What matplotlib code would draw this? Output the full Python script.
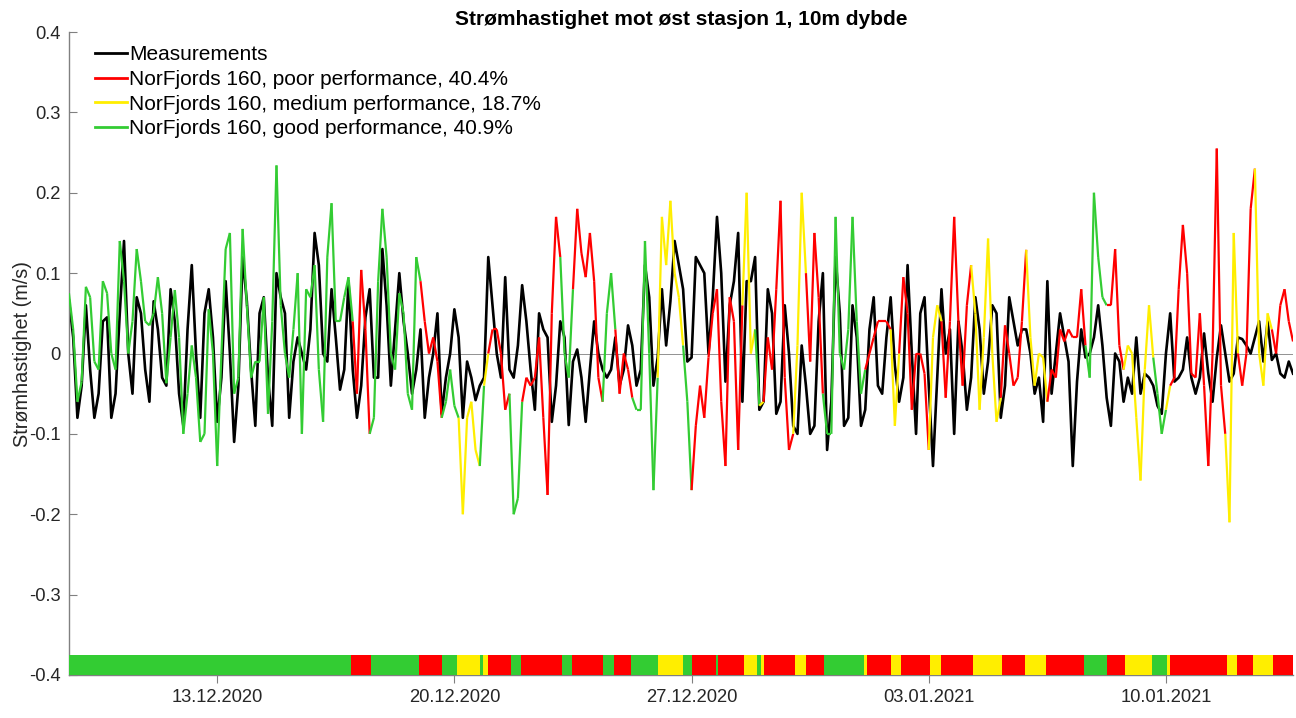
import numpy as np
import pandas as pd
import matplotlib
matplotlib.use('Agg')
import matplotlib.pyplot as plt
import matplotlib.dates as mdates
from matplotlib.collections import LineCollection
from matplotlib.lines import Line2D

plt.rcParams['font.family'] = ['Liberation Sans', 'DejaVu Sans']
plt.rcParams['axes.unicode_minus'] = False

# --- Data (3-hourly samples) ---
start_time = '2020-12-08 15:00'
step_hours = 3

measured = [
    0.066, 0.02, -0.08, -0.04, 0.06, -0.02, -0.08, -0.05, 0.04, 0.045,
    -0.08, -0.05, 0.05, 0.14, 0.0, -0.05, 0.07, 0.05, -0.02, -0.06,
    0.065, 0.03, -0.03, -0.04, 0.08, 0.04, -0.05, -0.09, 0.03, 0.11,
    0.0, -0.08, 0.05, 0.08, 0.02, -0.085, -0.03, 0.09, 0.0, -0.11,
    -0.04, 0.12, 0.065, -0.02, -0.09, 0.05, 0.07, -0.03, -0.09, 0.1,
    0.07, 0.05, -0.08, -0.01, 0.02, 0.0, -0.02, 0.03, 0.15, 0.11,
    0.0, -0.01, 0.08, 0.02, -0.045, -0.02, 0.09, -0.02, -0.08, -0.04,
    0.045, 0.08, -0.03, -0.03, 0.13, 0.06, -0.04, 0.03, 0.1, 0.04,
    0.0, -0.05, -0.02, 0.03, -0.08, -0.03, 0.0, 0.05, -0.075, -0.03,
    0.0, 0.055, 0.02, -0.08, -0.01, -0.03, -0.058, -0.04, -0.03, 0.12,
    0.06, 0.0, -0.03, 0.095, -0.02, -0.03, 0.01, 0.085, 0.04, -0.02,
    -0.07, 0.05, 0.03, 0.02, -0.085, -0.04, 0.04, 0.02, -0.089, -0.01,
    0.005, -0.03, -0.085, -0.02, 0.04, 0.0, -0.02, -0.03, -0.02, 0.02,
    -0.04, -0.02, 0.035, 0.01, -0.04, -0.02, 0.11, 0.07, -0.04, -0.005,
    0.08, 0.01, 0.065, 0.14, 0.11, 0.08, -0.01, -0.005, 0.12, 0.11,
    0.1, 0.0, 0.07, 0.17, 0.1, -0.035, 0.06, 0.09, 0.15, -0.06,
    0.09, 0.09, 0.12, -0.07, -0.06, 0.08, 0.05, -0.075, -0.06, 0.06,
    0.0, -0.09, -0.1, 0.01, -0.04, -0.1, -0.09, 0.04, 0.1, -0.12,
    -0.06, 0.12, 0.05, -0.09, -0.08, 0.06, 0.02, -0.09, -0.07, 0.03,
    0.07, -0.04, -0.05, 0.02, 0.07, -0.015, -0.06, -0.03, 0.11, 0.0,
    -0.1, 0.05, 0.07, -0.04, -0.14, -0.03, 0.08, 0.0, 0.03, -0.1,
    0.04, 0.0, -0.07, -0.03, 0.07, 0.03, -0.05, -0.01, 0.06, 0.05,
    -0.08, -0.04, 0.07, 0.04, 0.01, 0.03, 0.03, 0.0, -0.05, -0.03,
    -0.085, 0.09, -0.05, 0.0, 0.05, 0.02, -0.01, -0.14, -0.035, 0.03,
    -0.005, 0.0, 0.02, 0.06, 0.01, -0.055, -0.09, 0.0, -0.01, -0.06,
    -0.03, -0.05, 0.02, -0.05, -0.025, -0.03, -0.04, -0.065, -0.075, 0.0,
    0.05, -0.035, -0.03, -0.02, 0.02, -0.03, -0.05, -0.03, 0.025, -0.025,
    -0.06, -0.005, 0.035, 0.0, -0.035, -0.025, 0.02, 0.018, 0.01, 0.0,
    0.02, 0.04, -0.01, 0.04, -0.008, 0.0, -0.025, -0.03, -0.01, -0.025,
]

model = [
    0.075, 0.03, -0.06, -0.035, 0.083, 0.07, -0.01, -0.02, 0.09, 0.075,
    0.0, -0.02, 0.14, 0.09, 0.0, 0.04, 0.13, 0.09, 0.04, 0.035,
    0.05, 0.095, 0.05, -0.037, 0.02, 0.079, 0.02, -0.1, -0.05, 0.01,
    -0.03, -0.11, -0.1, 0.055, 0.0, -0.14, 0.0, 0.13, 0.15, -0.05,
    -0.03, 0.155, 0.06, -0.03, -0.01, -0.01, 0.07, -0.075, 0.04, 0.234,
    0.06, 0.0, -0.03, 0.03, 0.1, -0.1, 0.08, 0.07, 0.11, -0.02,
    -0.085, 0.12, 0.187, 0.04, 0.04, 0.07, 0.095, 0.04, -0.05, 0.104,
    0.03, -0.1, -0.08, 0.09, 0.18, 0.12, 0.0, -0.02, 0.075, 0.05,
    -0.05, -0.07, 0.12, 0.09, 0.04, 0.0, 0.02, -0.01, -0.08, -0.06,
    -0.02, -0.065, -0.08, -0.2, -0.08, -0.06, -0.12, -0.14, -0.04, 0.0,
    0.03, 0.03, 0.0, -0.07, -0.05, -0.2, -0.18, -0.06, -0.03, -0.04,
    -0.03, 0.02, -0.08, -0.176, 0.05, 0.17, 0.12, 0.0, -0.03, 0.08,
    0.18, 0.125, 0.095, 0.15, 0.09, -0.03, -0.06, 0.05, 0.1, 0.03,
    -0.05, 0.0, -0.02, -0.055, -0.07, -0.07, 0.14, 0.0, -0.17, -0.03,
    0.17, 0.11, 0.19, 0.1, 0.07, 0.01, -0.06, -0.17, -0.09, -0.04,
    -0.08, -0.005, 0.05, 0.08, -0.06, -0.14, 0.07, 0.04, -0.12, 0.06,
    0.2, 0.0, 0.03, -0.065, -0.06, 0.02, -0.02, 0.08, 0.19, -0.03,
    -0.12, -0.1, 0.01, 0.2, 0.1, -0.01, 0.15, 0.07, -0.05, -0.1,
    -0.1, 0.17, 0.0, -0.02, 0.03, 0.17, 0.04, -0.05, -0.02, 0.0,
    0.02, 0.04, 0.04, 0.04, 0.03, -0.09, 0.0, 0.095, 0.05, -0.07,
    0.0, 0.0, -0.025, -0.12, 0.02, 0.06, 0.04, -0.055, 0.04, 0.17,
    0.04, -0.04, 0.06, 0.11, 0.05, -0.07, 0.02, 0.143, 0.0, -0.085,
    -0.055, 0.035, 0.0, -0.04, -0.03, 0.04, 0.129, 0.02, -0.04, 0.0,
    -0.005, -0.06, -0.02, -0.03, 0.03, 0.015, 0.03, 0.02, 0.02, 0.08,
    0.01, -0.03, 0.2, 0.12, 0.07, 0.06, 0.06, 0.13, 0.01, -0.02,
    0.01, 0.0, -0.08, -0.158, -0.02, 0.06, -0.005, -0.05, -0.1, -0.07,
    -0.04, -0.03, 0.08, 0.16, 0.1, -0.025, -0.03, 0.05, -0.04, -0.14,
    0.0, 0.255, -0.04, -0.1, -0.21, 0.15, 0.0, -0.04, 0.0, 0.18,
    0.23, 0.0, -0.04, 0.05, 0.03, 0.0, 0.06, 0.08, 0.04, 0.015,
]

# performance classification periods (hours after start_time)
seg_start_h = [0, 200, 214, 248, 264, 275, 291, 293, 297, 313,
               320, 349, 356, 378, 386, 398, 417, 435, 441, 458,
               460, 478, 487, 490, 492, 514, 522, 535, 563, 565,
               582, 589, 610, 618, 640, 661, 677, 692, 719, 735,
               748, 767, 778, 780, 820, 827, 839, 853]
seg_cat = ['good', 'poor', 'good', 'poor', 'good', 'medium', 'good', 'medium', 'poor', 'good',
           'poor', 'good', 'poor', 'good', 'poor', 'good', 'medium', 'good', 'poor', 'good',
           'poor', 'medium', 'good', 'medium', 'poor', 'medium', 'poor', 'good', 'medium', 'poor',
           'medium', 'poor', 'medium', 'poor', 'medium', 'poor', 'medium', 'poor', 'good', 'poor',
           'medium', 'good', 'medium', 'poor', 'medium', 'poor', 'medium', 'poor']
end_h = 867

perf_pct = {'poor': 40.4, 'medium': 18.7, 'good': 40.9}
colors = {'poor': '#FF0000', 'medium': '#FFEE00', 'good': '#33CC33'}

# --- prep ---
t0 = pd.Timestamp(start_time)
times = pd.date_range(t0, periods=len(measured), freq=f'{step_hours}h')
xnum = mdates.date2num(times.to_pydatetime())
meas = np.array(measured)
mod = np.array(model)

seg_start = np.array(seg_start_h, dtype=float)
seg_end = np.append(seg_start[1:], end_h)

# colour each model line piece by the class at its midpoint
mid_h = (np.arange(len(mod) - 1) + 0.5) * step_hours
idx = np.searchsorted(seg_start, mid_h, side='right') - 1
piece_cols = [colors[seg_cat[k]] for k in idx]
pts = np.column_stack([xnum, mod])
pieces = np.stack([pts[:-1], pts[1:]], axis=1)

# --- plot ---
fig = plt.figure(figsize=(12.96, 7.18), dpi=100)
ax = fig.add_axes([0.0532, 0.0599, 0.9445, 0.8955])

ax.axhline(0, color='#808080', lw=0.6, zorder=1)
ax.plot(xnum, meas, color='black', lw=1.9, zorder=2)
lc = LineCollection(pieces, colors=piece_cols, linewidths=1.6, zorder=3)
ax.add_collection(lc)

# classification strip at the bottom
d0 = mdates.date2num(t0.to_pydatetime())
for s, e, c in zip(seg_start, seg_end, seg_cat):
    ax.broken_barh([(d0 + s / 24, (e - s) / 24)], (-0.4, 0.0245),
                   facecolors=colors[c], edgecolor='none', zorder=4)

ax.set_xlim(d0, d0 + end_h / 24)
ax.set_ylim(-0.4, 0.4)
yt = np.round(np.arange(-0.4, 0.41, 0.1), 1) + 0.0
ax.set_yticks(yt)
ax.set_yticklabels([f'{v:g}' for v in yt])
tick_dates = pd.to_datetime(['2020-12-13', '2020-12-20', '2020-12-27', '2021-01-03', '2021-01-10'])
ax.set_xticks(mdates.date2num(tick_dates.to_pydatetime()))
ax.xaxis.set_major_formatter(mdates.DateFormatter('%d.%m.%Y'))

for side in ['top', 'right']:
    ax.spines[side].set_visible(False)
for side in ['left', 'bottom']:
    ax.spines[side].set_color('#808080')
    ax.spines[side].set_linewidth(1.0)
ax.tick_params(axis='y', direction='in', length=6, color='#808080',
               labelsize=13.2, labelcolor='#262626', pad=6)
ax.tick_params(axis='x', direction='out', length=6, color='#808080',
               labelsize=13.2, labelcolor='#262626', pad=4)

ax.set_ylabel('Strømhastighet (m/s)', fontsize=14.3, color='#262626', labelpad=-2)
ax.set_title('Strømhastighet mot øst stasjon 1, 10m dybde', fontsize=15,
             fontweight='bold', pad=5)

handles = [Line2D([], [], color='black', lw=2)]
labels = ['Measurements']
for cat in ['poor', 'medium', 'good']:
    handles.append(Line2D([], [], color=colors[cat], lw=2))
    labels.append(f'NorFjords 160, {cat} performance, {perf_pct[cat]}%')
ax.legend(handles, labels, loc='upper left', bbox_to_anchor=(0.006, 1.009),
          frameon=False, fontsize=15, handlelength=1.55, handletextpad=0.1,
          labelspacing=0.28, borderaxespad=0.5, borderpad=0.4)

fig.savefig('out.png', dpi=100)
